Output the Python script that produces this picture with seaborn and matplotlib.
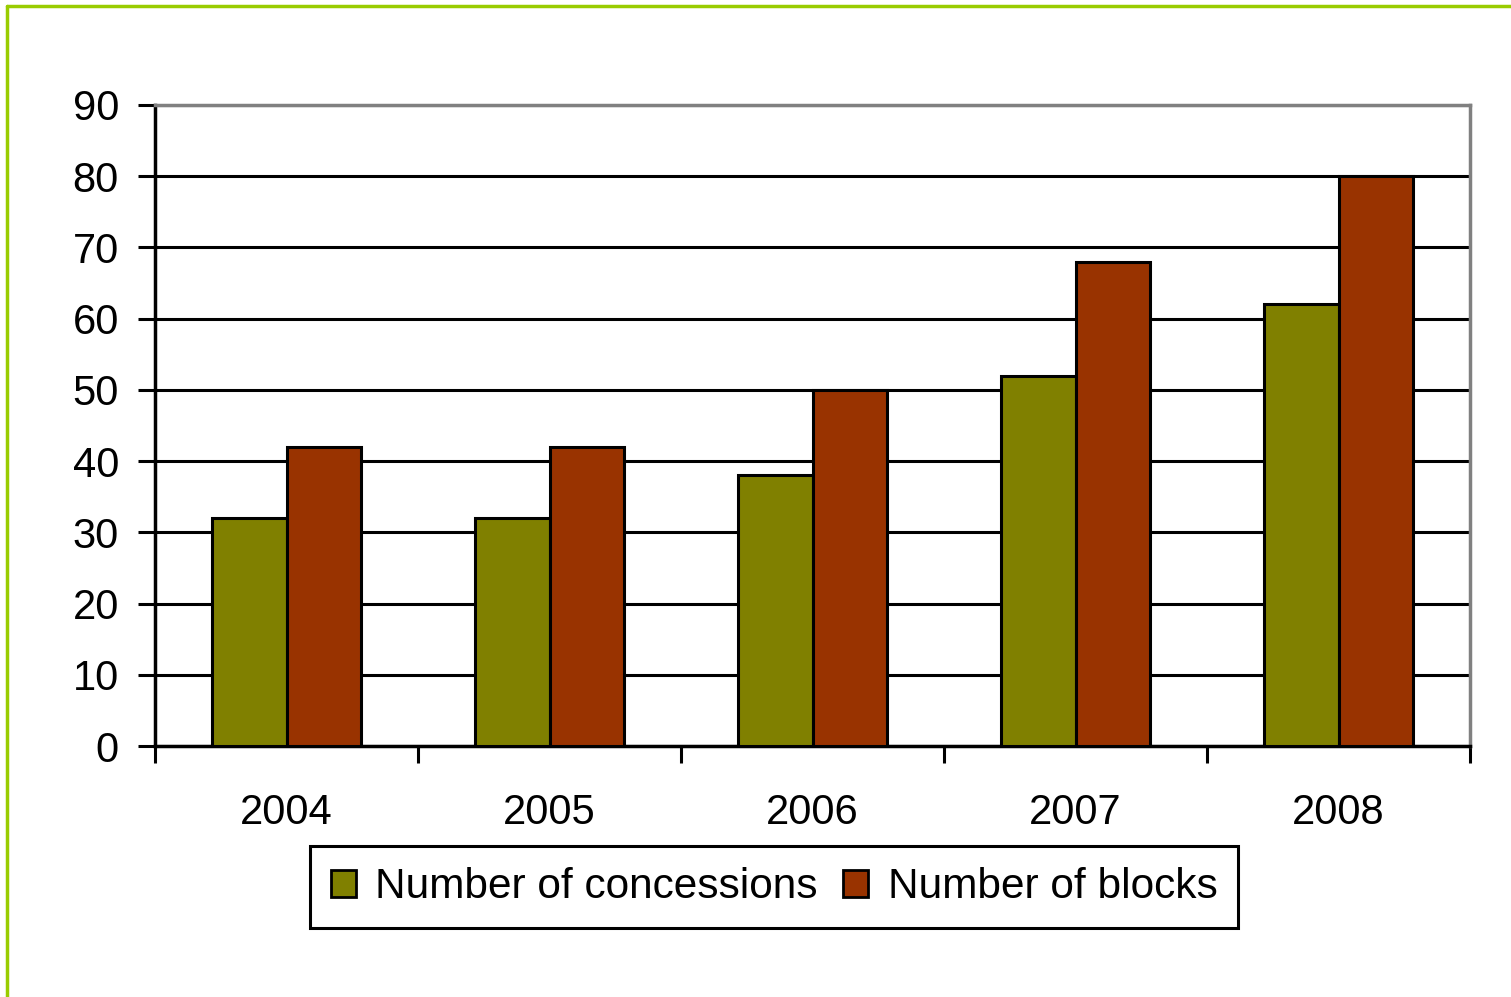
# Bar chart: concessions vs blocks, 2004-2008
import pandas as pd
import matplotlib
matplotlib.use("Agg")
import matplotlib.pyplot as plt
import seaborn as sns
from matplotlib.lines import Line2D

# ── Data ────────────────────────────────────────────────
years        = ["2004", "2005", "2006", "2007", "2008"]
concessions  = [32, 32, 38, 52, 62]
blocks       = [42, 42, 50, 68, 80]
series_names = ["Number of concessions", "Number of blocks"]
y_ticks      = [0, 10, 20, 30, 40, 50, 60, 70, 80, 90]

COLORS = {"Number of concessions": "#808000", "Number of blocks": "#993300"}

df = pd.DataFrame({
    "Year": years * 2,
    "Series": [series_names[0]] * len(years) + [series_names[1]] * len(years),
    "Value": concessions + blocks,
})

sns.set_style("white")
plt.rcParams["font.family"] = ["Liberation Sans", "DejaVu Sans"]
plt.rcParams["text.color"] = "black"
plt.rcParams["xtick.color"] = "black"
plt.rcParams["ytick.color"] = "black"

fig = plt.figure(figsize=(15.11, 9.97), dpi=100)
ax = fig.add_axes([155/1511, (997-746)/997, 1315/1511, 641/997])

sns.barplot(data=df, x="Year", y="Value", hue="Series", palette=COLORS,
            saturation=1, width=0.57, edgecolor="black", linewidth=2.2,
            ax=ax, legend=False, zorder=3)

ax.set_ylim(0, 90)
ax.set_xlim(-0.5, len(years) - 0.5)
ax.set_yticks(y_ticks)
ax.set_yticklabels([str(t) for t in y_ticks], fontsize=30)
ax.yaxis.grid(True, color="black", linewidth=2.2, zorder=0)
ax.set_axisbelow(True)

# category-boundary ticks, labels centred between them
ax.set_xticks([i - 0.5 for i in range(len(years) + 1)])
ax.set_xticklabels([""] * (len(years) + 1))
ax.set_xticks(range(len(years)), minor=True)
ax.set_xticklabels(years, minor=True, fontsize=30)
ax.tick_params(axis="x", which="major", direction="out", length=12, width=2.2,
               color="black", bottom=True)
ax.tick_params(axis="x", which="minor", length=0, pad=34)
ax.tick_params(axis="y", direction="out", length=12, width=2.2, color="black",
               left=True, pad=14)
ax.set_xlabel(""); ax.set_ylabel("")

for side in ["left", "bottom"]:
    ax.spines[side].set_color("black"); ax.spines[side].set_linewidth(2.5)
for side in ["top", "right"]:
    ax.spines[side].set_color("#808080"); ax.spines[side].set_linewidth(2.5)

# legend
handles = [plt.Rectangle((0, 0), 1, 1, facecolor=COLORS[s], edgecolor="black",
                         linewidth=2) for s in series_names]
leg = fig.legend(handles, series_names, loc="center", ncol=2,
                 bbox_to_anchor=(774/1511, (997-887)/997), fontsize=30.5,
                 frameon=True, fancybox=False, edgecolor="black", framealpha=1,
                 handlelength=0.6, handleheight=0.6, handletextpad=0.45,
                 columnspacing=0.6, borderpad=0.5, borderaxespad=0)
leg.get_frame().set_linewidth(2.2)

# green frame on left and top
fig.add_artist(Line2D([7/1511, 7/1511], [0, 1 - 6/997], color="#99CC00",
                      linewidth=2.5, transform=fig.transFigure))
fig.add_artist(Line2D([7/1511, 1], [1 - 6/997, 1 - 6/997], color="#99CC00",
                      linewidth=2.5, transform=fig.transFigure))

fig.savefig("out.png", dpi=100)
